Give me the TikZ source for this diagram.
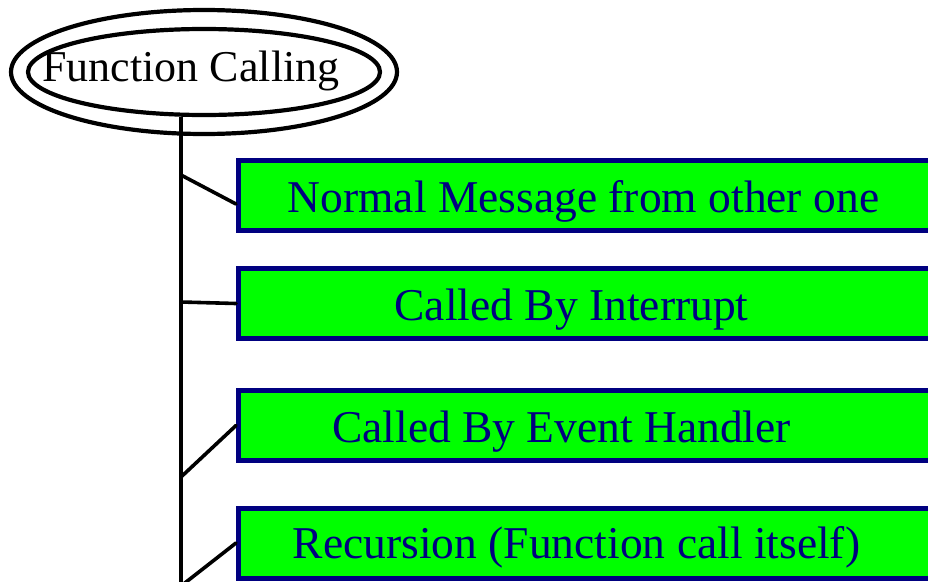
\documentclass[tikz,border=0pt]{standalone}
\usepackage{fontspec}
\setmainfont{Liberation Serif}
\usepackage{tikz}
\usetikzlibrary{shapes.geometric}

\definecolor{boxgreen}{HTML}{00FF00}
\definecolor{boxnavy}{HTML}{000080}

\tikzset{
    calltext/.style={font=\fontsize{44}{48}\selectfont, inner sep=0pt},
    callbox/.style={draw=boxnavy, line width=5pt, fill=boxgreen, anchor=west,
        minimum width=720pt, minimum height=70pt, inner sep=0pt},
    boxtext/.style={calltext, font=\fontsize{45.5}{50}\selectfont, text=boxnavy, yshift=-6pt},
    link/.style={line width=3.6pt, line cap=round},
}

\begin{document}
\begin{tikzpicture}[x=1pt, y=-1pt]
        \useasboundingbox (0, 0) rectangle (928, 581);
        \clip (0, 0) rectangle (928, 581);
        \fill[white] (0, 0) rectangle (928, 581);

        % root of the tree
        \node[ellipse, draw, line width=4.2pt, minimum width=352pt, minimum height=86pt,
            label={[calltext, xshift=-13pt, yshift=1pt]center:Function Calling}] (fc) at (204, 72) {};
        \draw[line width=4.2pt] (fc.center) ellipse [x radius=193, y radius=62];

        \coordinate (T1) at (181, 175);
        \coordinate (T2) at (181, 302);
        \coordinate (T3) at (181, 477);
        \coordinate (T4) at (181, 586);

        \draw[line width=4.5pt] (fc.south -| T4) -- (T4);

        % the four ways a function gets called
        \node[callbox, label={[boxtext, xshift=-15pt]center:Normal Message from other one}] (b1) at (236, 195.5) {};
        \node[callbox, label={[boxtext, xshift=-27pt]center:Called By Interrupt}] (b2) at (236, 303.5) {};
        \node[callbox, label={[boxtext, xshift=-37pt]center:Called By Event Handler}] (b3) at (236, 425.5) {};
        \node[callbox, label={[boxtext, xshift=-22pt, yshift=2pt]center:Recursion (Function call itself)}] (b4) at (236, 543) {};

        \draw[link] (T1) -- ([yshift=-8.5pt]b1.west);
        \draw[link] (T2) -- (b2.west);
        \draw[link] (T3) -- (b3.west);
        \draw[link] (T4) -- (b4.west);

    \end{tikzpicture}
\end{document}
